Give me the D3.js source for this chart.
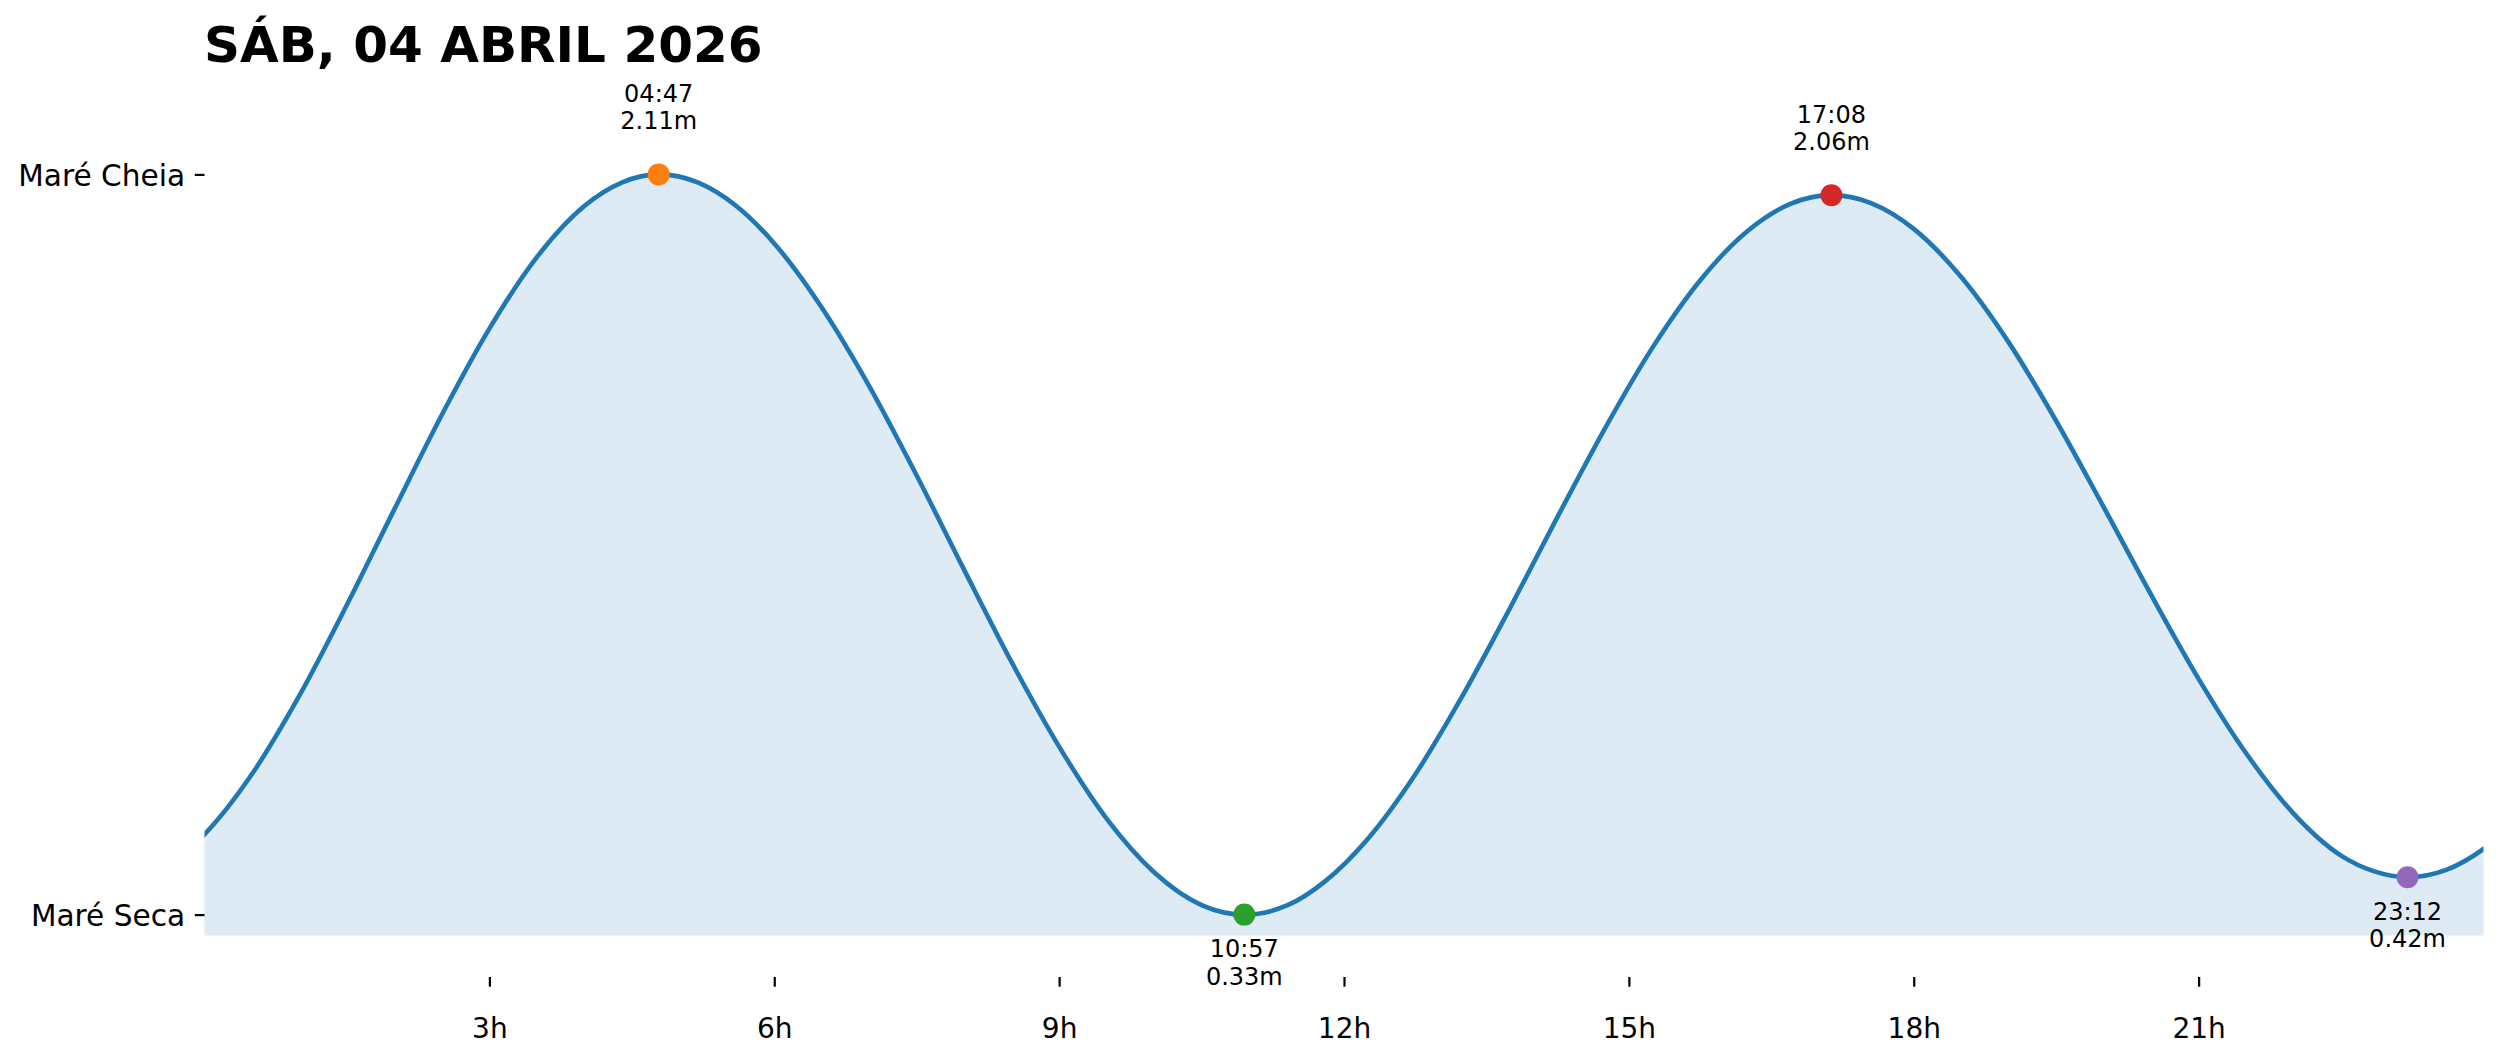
<!DOCTYPE html>
<html>
<head>
<meta charset="utf-8">
<script src="https://cdn.jsdelivr.net/npm/d3@7"></script>
<style>
  html, body { margin: 0; padding: 0; background: #fff; }
  svg { display: block; }
  text { font-family: "DejaVu Sans", sans-serif; }
</style>
</head>
<body>
<svg id="chart" width="2501" height="1062"></svg>
<script>
// ---- data ----
const title = "SÁB, 04 ABRIL 2026";

// tide curve (hours, metres); first/last points lie just outside the day
const curveHours = [-0.5, 0, 0.5, 1, 1.5, 2, 2.5, 3, 3.5, 4, 4.4, 4.783,
  5.2, 5.6, 6, 6.5, 7, 7.5, 8, 8.5, 9, 9.5, 10, 10.5, 10.95,
  11.4, 11.8, 12.25, 12.75, 13.25, 13.75, 14.25, 14.75, 15.25, 15.75, 16.25, 16.7, 17.133,
  17.55, 18, 18.5, 19, 19.5, 20, 20.5, 21, 21.5, 22, 22.5, 22.85, 23.2,
  23.6, 24, 24.5];
const curveHeights = [0.431, 0.523, 0.668, 0.857, 1.075, 1.305, 1.532, 1.739, 1.911, 2.034, 2.091, 2.11,
  2.090, 2.034, 1.944, 1.790, 1.601, 1.386, 1.159, 0.937, 0.734, 0.561, 0.432, 0.353, 0.33,
  0.352, 0.410, 0.512, 0.667, 0.857, 1.068, 1.287, 1.500, 1.694, 1.855, 1.974, 2.039, 2.06,
  2.041, 1.979, 1.863, 1.706, 1.517, 1.310, 1.099, 0.897, 0.718, 0.573, 0.472, 0.434, 0.42,
  0.437, 0.488, 0.595];

// tide extremes
const extremeLabels = ["04:47", "10:57", "17:08", "23:12"];
const extremeHours = [4.783, 10.95, 17.133, 23.2];
const extremeHeights = [2.11, 0.33, 2.06, 0.42];
const extremeTypes = ["high", "low", "high", "low"];
const extremeColors = ["#ff7f0e", "#2ca02c", "#d62728", "#9467bd"];

// ticks
const xTickValues = [3, 6, 9, 12, 15, 18, 21];
const xTickLabels = ["3h", "6h", "9h", "12h", "15h", "18h", "21h"];
const yTickLabels = ["Maré Seca", "Maré Cheia"];

// ---- layout ----
const svg = d3.select("#chart");
const plotLeft = 204.5, plotRight = 2483.5, plotTop = 112, plotBottom = 977;

const minH = d3.min(extremeHeights), maxH = d3.max(extremeHeights);
const x = d3.scaleLinear().domain([0, 24]).range([plotLeft, plotRight]);
const y = d3.scaleLinear().domain([minH - 0.15, maxH + 0.15]).range([plotBottom, plotTop]);

const pts = curveHours.map((h, i) => ({ t: h, v: curveHeights[i] }));

svg.append("defs").append("clipPath").attr("id", "plotclip")
  .append("rect")
  .attr("x", plotLeft).attr("y", 0)
  .attr("width", plotRight - plotLeft).attr("height", plotBottom);

const plot = svg.append("g").attr("clip-path", "url(#plotclip)");

// fill
const area = d3.area()
  .x(d => x(d.t))
  .y0(y(minH - 0.05))
  .y1(d => y(d.v))
  .curve(d3.curveMonotoneX);
plot.append("path").datum(pts)
  .attr("d", area)
  .attr("fill", "#1f77b4")
  .attr("fill-opacity", 0.15);

// line
const line = d3.line()
  .x(d => x(d.t))
  .y(d => y(d.v))
  .curve(d3.curveMonotoneX);
plot.append("path").datum(pts)
  .attr("d", line)
  .attr("fill", "none")
  .attr("stroke", "#1f77b4")
  .attr("stroke-width", 4.6)
  .attr("stroke-linejoin", "round");

// x axis
const xAxis = d3.axisBottom(x)
  .tickValues(xTickValues)
  .tickFormat((d, i) => xTickLabels[i])
  .tickSize(9.7)
  .tickPadding(0);
const gx = svg.append("g").attr("transform", `translate(0,${plotBottom})`).call(xAxis);
gx.select(".domain").remove();
gx.selectAll(".tick line").attr("stroke", "#000").attr("stroke-width", 2.2);
gx.selectAll(".tick text")
  .attr("y", 61).attr("dy", "0")
  .attr("fill", "#000")
  .style("font-size", "28px")
  .style("font-family", "DejaVu Sans");

// y axis
const yAxis = d3.axisLeft(y)
  .tickValues([minH, maxH])
  .tickFormat((d, i) => yTickLabels[i])
  .tickSize(9.7)
  .tickPadding(9.7);
const gy = svg.append("g").attr("transform", `translate(${plotLeft},0)`).call(yAxis);
gy.select(".domain").remove();
gy.selectAll(".tick line").attr("stroke", "#000").attr("stroke-width", 2.2);
gy.selectAll(".tick text")
  .attr("dy", "0.36em")
  .attr("fill", "#000")
  .style("font-size", "29.6px")
  .style("font-family", "DejaVu Sans");

// extreme markers & labels
extremeHours.forEach((h, i) => {
  const cx = x(h), cy = y(extremeHeights[i]);
  svg.append("circle")
    .attr("cx", cx).attr("cy", cy).attr("r", 11)
    .attr("fill", extremeColors[i]);
  const lines = [extremeLabels[i], extremeHeights[i].toFixed(2) + "m"];
  const isHigh = extremeTypes[i] === "high";
  const firstBaseline = isHigh ? cy - 45 - 27.5 : cy + 42.5;
  const t = svg.append("text")
    .attr("text-anchor", "middle")
    .style("font-size", "24px")
    .attr("fill", "#000");
  lines.forEach((s, k) => {
    t.append("tspan").attr("x", cx).attr("y", firstBaseline + k * 27.5).text(s);
  });
});

// title
svg.append("text")
  .attr("x", 204).attr("y", 62)
  .style("font-size", "50px")
  .style("font-weight", "bold")
  .attr("fill", "#000")
  .text(title);
</script>
</body>
</html>
